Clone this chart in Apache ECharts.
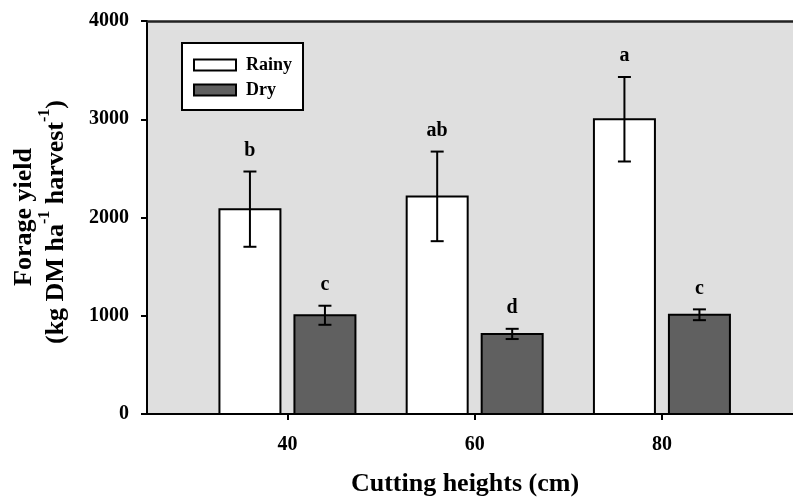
<!DOCTYPE html>
<html>
<head>
<meta charset="utf-8">
<script src="https://cdn.jsdelivr.net/npm/echarts@6/dist/echarts.min.js"></script>
<style>html,body{margin:0;padding:0;background:#fff}#c{width:793px;height:500px}</style>
</head>
<body>
<div id="c"></div>
<script>
var heights = [40, 60, 80];
var rainy = [2085, 2215, 3000];
var rainyErr = [383, 456, 430];
var rainyLetters = ['b', 'ab', 'a'];
var dry = [1005, 815, 1010];
var dryErr = [97, 52, 55];
var dryLetters = ['c', 'd', 'c'];
var yTicks = [0, 1000, 2000, 3000, 4000];
var xTicks = [40, 60, 80];

var FONT = '"Liberation Serif", "Times New Roman", serif';
var chart = echarts.init(document.getElementById('c'), null, {renderer: 'canvas'});

function makeRender(offset, fill, letters) {
  return function (params, api) {
    var x = api.value(0), v = api.value(1), e = api.value(2);
    var base = api.coord([x, 0]);
    var top = api.coord([x, v]);
    var eTop = api.coord([x, v + e]);
    var eBot = api.coord([x, v - e]);
    var cx = base[0] + offset;
    var bw = 61, cap = 13;
    return {
      type: 'group',
      children: [
        {type: 'rect', shape: {x: cx - bw / 2, y: top[1], width: bw, height: base[1] - top[1]},
         style: {fill: fill, stroke: '#000', lineWidth: 2}},
        {type: 'line', shape: {x1: cx, y1: eBot[1], x2: cx, y2: eTop[1]}, style: {stroke: '#000', lineWidth: 2}},
        {type: 'line', shape: {x1: cx - cap / 2, y1: eTop[1], x2: cx + cap / 2, y2: eTop[1]}, style: {stroke: '#000', lineWidth: 2}},
        {type: 'line', shape: {x1: cx - cap / 2, y1: eBot[1], x2: cx + cap / 2, y2: eBot[1]}, style: {stroke: '#000', lineWidth: 2}},
        {type: 'text', x: cx, y: eTop[1] - 21,
         style: {text: letters[params.dataIndex], fill: '#000', font: 'bold 20px ' + FONT, align: 'center', verticalAlign: 'middle'}}
      ]
    };
  };
}

var option = {
  animation: false,
  grid: {left: 147, top: 21, right: 0, bottom: 86, show: true, backgroundColor: '#dfdfdf', borderWidth: 0},
  legend: {
    left: 182, top: 43, orient: 'vertical',
    backgroundColor: '#fff', borderColor: '#000', borderWidth: 2,
    padding: [13, 11, 11, 11], itemGap: 7, itemWidth: 42, itemHeight: 11,
    textStyle: {fontFamily: FONT, fontWeight: 'bold', fontSize: 18, color: '#000', padding: [0, 0, 0, 5]},
    data: [
      {name: 'Rainy', icon: 'rect', itemStyle: {color: '#fff', borderColor: '#000', borderWidth: 2}},
      {name: 'Dry', icon: 'rect', itemStyle: {color: '#606060', borderColor: '#000', borderWidth: 2}}
    ]
  },
  xAxis: [{
    type: 'value', min: 25, max: 94,
    splitLine: {show: false},
    axisLine: {show: true, onZero: false, lineStyle: {color: '#000', width: 2}},
    axisTick: {show: true, length: 6, customValues: xTicks, lineStyle: {color: '#000', width: 2}},
    axisLabel: {customValues: xTicks, margin: 21, fontFamily: FONT, fontWeight: 'bold', fontSize: 20, color: '#000'}
  }, {
    type: 'value', min: 25, max: 94, position: 'top',
    splitLine: {show: false},
    axisLine: {show: true, onZero: false, lineStyle: {color: '#222', width: 2.5}},
    axisTick: {show: false}, axisLabel: {show: false}
  }],
  yAxis: {
    type: 'value', min: 0, max: 4000, interval: 1000,
    splitLine: {show: false},
    axisLine: {show: true, lineStyle: {color: '#000', width: 2}},
    axisTick: {show: true, length: 6, lineStyle: {color: '#000', width: 2}},
    axisLabel: {margin: 18, fontFamily: FONT, fontWeight: 'bold', fontSize: 20, color: '#000',
                formatter: function (v) { return String(v); }}
  },
  series: [
    {name: 'Rainy', type: 'custom', renderItem: makeRender(-37.5, '#ffffff', rainyLetters),
     itemStyle: {color: '#fff'},
     data: heights.map(function (h, i) { return [h, rainy[i], rainyErr[i]]; })},
    {name: 'Dry', type: 'custom', renderItem: makeRender(37.5, '#606060', dryLetters),
     itemStyle: {color: '#606060'},
     data: heights.map(function (h, i) { return [h, dry[i], dryErr[i]]; })}
  ],
  graphic: [
    {type: 'text', x: 465, y: 484,
     style: {text: 'Cutting heights (cm)', font: 'bold 26px ' + FONT, fill: '#000', align: 'center', verticalAlign: 'middle'}},
    {type: 'text', x: 24, y: 217, rotation: Math.PI / 2,
     style: {text: 'Forage yield', font: 'bold 26px ' + FONT, fill: '#000', align: 'center', verticalAlign: 'middle'}},
    {type: 'text', x: 53, y: 222, rotation: Math.PI / 2,
     style: {
       text: '{n|(kg DM ha}{s|-1}{n| harvest}{s|-1}{n|)}',
       align: 'center', verticalAlign: 'middle', fill: '#000',
       rich: {
         n: {font: 'bold 26px ' + FONT, fill: '#000', lineHeight: 32, verticalAlign: 'bottom'},
         s: {font: 'bold 16px ' + FONT, fill: '#000', lineHeight: 32, verticalAlign: 'top'}
       }
     }}
  ]
};
chart.setOption(option);
</script>
</body>
</html>
